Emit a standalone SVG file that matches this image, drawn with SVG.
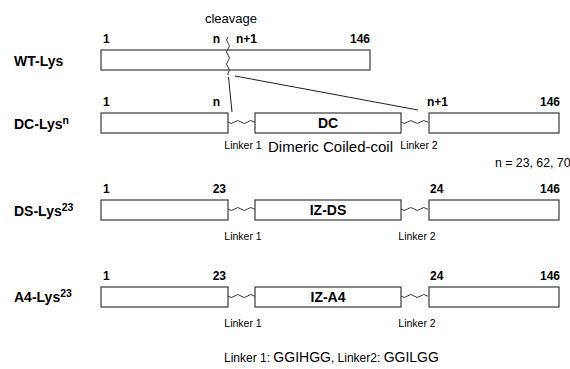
<svg xmlns="http://www.w3.org/2000/svg" width="570" height="369" viewBox="0 0 570 369">
<style>
text{font-family:"Liberation Sans",Arial,sans-serif;fill:#000}
.nm{font-size:14px;font-weight:bold}
.sup{font-size:10.5px;font-weight:bold}
.num{font-size:12px;font-weight:bold}
.lnk{font-size:10.5px}
.box{fill:#fff;stroke:#3a3a3a;stroke-width:1.2}
.wave{fill:none;stroke:#3a3a3a;stroke-width:1}
.dom{font-size:14px;font-weight:bold;text-anchor:middle}
.ln{stroke:#222;stroke-width:1;fill:none}
</style>
<defs>
<path id="wv" class="wave" d="M0,0 q3.25,3 6.5,0 t6.5,0 t6.5,0 t6.5,0 l1,0"/>
</defs>

<g id="wt">
<text class="nm" x="14" y="66">WT-Lys</text>
<rect class="box" x="101" y="50" width="269" height="20"/>
<text class="num" x="103" y="43">1</text>
<text class="num" x="220" y="43" text-anchor="end">n</text>
<text class="num" x="236" y="43">n+1</text>
<text class="num" x="370" y="43" text-anchor="end">146</text>
<text x="231" y="23" font-size="13" text-anchor="middle">cleavage</text>
<path class="wave" d="M228,37 q-3,3 0,6 t0,6 t0,6 t0,6 t0,6 t0,6 l0,2"/>
</g>

<g id="connectors">
<line class="ln" x1="228.5" y1="77" x2="232" y2="112"/>
<line class="ln" x1="235" y1="76" x2="418" y2="110"/>
</g>

<g id="dc">
<text class="nm" x="14" y="129">DC-Lys<tspan class="sup" dy="-5">n</tspan></text>
<text class="num" x="103" y="106">1</text>
<text class="num" x="220" y="106" text-anchor="end">n</text>
<text class="num" x="427" y="106">n+1</text>
<text class="num" x="560" y="106" text-anchor="end">146</text>
<rect class="box" x="101" y="113" width="127" height="20"/>
<rect class="box" x="255" y="113" width="146" height="20"/>
<rect class="box" x="429" y="113" width="130" height="20"/>
<use href="#wv" x="228" y="122"/>
<use href="#wv" x="401" y="122"/>
<text class="dom" x="328" y="128">DC</text>
<text class="lnk" x="243" y="149" text-anchor="middle">Linker 1</text>
<text class="lnk" x="419" y="149" text-anchor="middle">Linker 2</text>
<text x="268" y="152" font-size="15">Dimeric Coiled-coil</text>
<text x="495" y="167" font-size="12.3">n = 23, 62, 70</text>
</g>

<g id="ds">
<text class="nm" x="14" y="216">DS-Lys<tspan class="sup" dy="-5">23</tspan></text>
<text class="num" x="103" y="193">1</text>
<text class="num" x="226" y="193" text-anchor="end">23</text>
<text class="num" x="430" y="193">24</text>
<text class="num" x="560" y="193" text-anchor="end">146</text>
<rect class="box" x="101" y="200" width="127" height="20"/>
<rect class="box" x="255" y="200" width="146" height="20"/>
<rect class="box" x="429" y="200" width="130" height="20"/>
<use href="#wv" x="228" y="209"/>
<use href="#wv" x="401" y="209"/>
<text class="dom" x="328" y="215">IZ-DS</text>
<text class="lnk" x="243" y="240" text-anchor="middle">Linker 1</text>
<text class="lnk" x="417" y="240" text-anchor="middle">Linker 2</text>
</g>

<g id="a4">
<text class="nm" x="14" y="302">A4-Lys<tspan class="sup" dy="-5">23</tspan></text>
<text class="num" x="103" y="280">1</text>
<text class="num" x="226" y="280" text-anchor="end">23</text>
<text class="num" x="430" y="280">24</text>
<text class="num" x="560" y="280" text-anchor="end">146</text>
<rect class="box" x="101" y="287" width="127" height="20"/>
<rect class="box" x="255" y="287" width="146" height="20"/>
<rect class="box" x="429" y="287" width="130" height="20"/>
<use href="#wv" x="228" y="296"/>
<use href="#wv" x="401" y="296"/>
<text class="dom" x="328" y="302">IZ-A4</text>
<text class="lnk" x="243" y="327" text-anchor="middle">Linker 1</text>
<text class="lnk" x="417" y="327" text-anchor="middle">Linker 2</text>
</g>

<g id="legend">
<text x="224" y="362" font-size="12">Linker 1: <tspan font-size="14">GGIHGG</tspan>, Linker2: <tspan font-size="14">GGILGG</tspan></text>
</g>
</svg>
